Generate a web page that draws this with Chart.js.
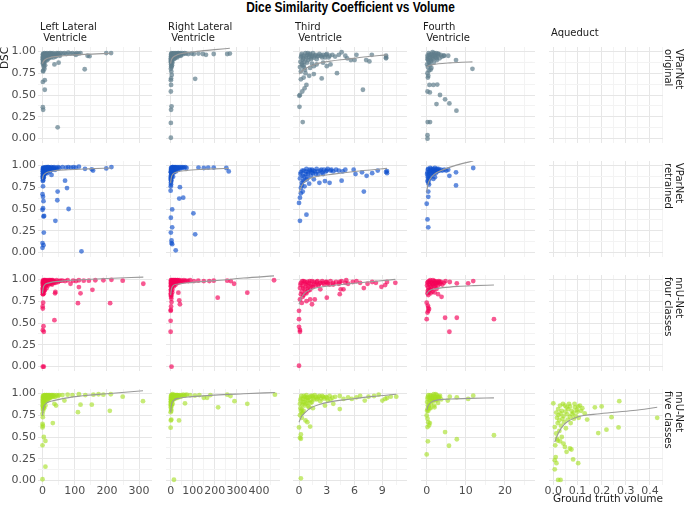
<!DOCTYPE html>
<html><head><meta charset="utf-8">
<script src="https://cdn.jsdelivr.net/npm/chart.js@4/dist/chart.umd.min.js"></script>
<style>
html,body{margin:0;padding:0;background:#fff;}
body{width:685px;height:507px;position:relative;overflow:hidden;font-family:"DejaVu Sans",sans-serif;}
canvas{position:absolute;}
.t{position:absolute;white-space:pre;color:#1a1a1a;}
</style></head><body>
<script>
// ---------- categories / labels ----------
const colNames = ["Left Lateral\n Ventricle", "Right Lateral\n Ventricle", "Third\n Ventricle", "Fourth\n Ventricle", "Aqueduct"];
const rowNames = ["VParNet\noriginal", "VParNet\nretrained", "nnU-Net\nfour classes", "nnU-Net\nfive classes"];
const yTickVals = [0, 0.25, 0.5, 0.75, 1];
const yTickLabels = ["0.00", "0.25", "0.50", "0.75", "1.00"];
const yMinorVals = [0.125, 0.375, 0.625, 0.875];
const xTickVals = [[0,100,200,300],[0,100,200,300,400],[0,3,6,9],[0,10,20],[0,0.1,0.2,0.3,0.4]];
const xTickLabels = [["0","100","200","300"],["0","100","200","300","400"],["0","3","6","9"],["0","10","20"],["0.0","0.1","0.2","0.3","0.4"]];
const xMinorVals = [[50,150,250],[50,150,250,350,450],[1.5,4.5,7.5,10.5],[5,15,25],[0.05,0.15,0.25,0.35,0.45]];
const xLimits = [[-14,340],[-21,495],[-0.65,11.66],[-1.46,27.7],[-0.0178,0.454]];
const yLimits = [-0.05, 1.05];

// ---------- VParNet original ----------
const llvOrig = [[0.5,0.93],[1,0.96],[1.5,0.9],[2,0.94],[2.5,0.88],[3,0.97],[3.5,0.92],[4,0.86],[5,0.95],[5.5,0.9],[6,0.98],[7,0.93],[8,0.96],[9,0.89],[10,0.94],[11,0.97],[12,0.92],[13,0.95],[14,0.98],[15,0.9],[16,0.96],[18,0.94],[19,0.97],[20,0.92],[22,0.98],[23,0.95],[25,0.96],[27,0.93],[29,0.97],[31,0.95],[33,0.98],[35,0.96],[38,0.97],[41,0.94],[44,0.98],[47,0.97],[52,0.96],[56,0.98],[62,0.975],[68,0.98],[74,0.97],[80,0.985],[87,0.975],[93,0.98],[100,0.97],[106,0.98],[112,0.975],[118,0.98],[104,0.96],[140,0.95],[146,0.945],[198,0.98],[213,0.98],[3,0.84],[4,0.82],[6,0.8],[2,0.78],[1,0.86],[8,0.84],[37,0.85],[50,0.87],[131,0.795],[2,0.77],[7,0.67],[1,0.65],[7,0.56],[1,0.36],[2,0.33],[47,0.13],[0.8,0.91],[1.8,0.97],[2.8,0.94],[4.5,0.9],[6.5,0.93],[7.5,0.97],[9.5,0.95],[11.5,0.91],[13.5,0.97],[17,0.92],[21,0.96],[24,0.94],[26,0.98],[30,0.96],[34,0.93],[39,0.96],[43,0.95],[49,0.98],[54,0.95],[3,0.89],[5,0.87],[1.5,0.88]];
const llvOrigFit = [[0,0.86],[2,0.88],[8,0.905],[20,0.925],[40,0.94],[75,0.952],[130,0.965],[214,0.978]];
const rlvOrig = [[1,0.92],[2,0.96],[3,0.89],[4,0.94],[5,0.98],[6,0.9],[7,0.95],[8,0.87],[9,0.97],[10,0.93],[12,0.96],[13,0.91],[15,0.98],[16,0.94],[18,0.97],[20,0.92],[22,0.96],[24,0.98],[26,0.95],[28,0.97],[30,0.93],[33,0.98],[36,0.96],[40,0.97],[44,0.98],[48,0.96],[53,0.98],[58,0.97],[64,0.98],[70,0.975],[80,0.97],[95,0.975],[105,0.97],[126,0.975],[146,0.97],[160,0.96],[195,0.97],[256,0.97],[268,0.975],[2,0.85],[4,0.82],[1,0.8],[6,0.84],[3,0.77],[5,0.73],[2,0.69],[1,0.67],[111,0.685],[2,0.615],[1,0.54],[4,0.37],[2,0.33],[1,0.18],[1,0.01],[0.5,0.9],[1.5,0.94],[2.5,0.97],[3.5,0.91],[4.5,0.95],[5.5,0.88],[6.5,0.97],[7.5,0.93],[11,0.95],[14,0.97],[17,0.92],[19,0.95],[23,0.97],[27,0.94],[31,0.96],[35,0.98],[38,0.95],[42,0.97],[46,0.95],[2,0.87],[3,0.83],[1,0.88]];
const rlvOrigFit = [[0,0.86],[3,0.9],[10,0.93],[30,0.96],[60,0.98],[120,1.0],[200,1.02],[268,1.035]];
const tvOrig = [[0.2,0.93],[0.3,0.97],[0.4,0.9],[0.5,0.95],[0.6,0.88],[0.7,0.98],[0.8,0.92],[0.9,0.96],[1.0,0.9],[1.1,0.94],[1.2,0.97],[1.3,0.91],[1.4,0.95],[1.5,0.98],[1.6,0.93],[1.8,0.96],[2.0,0.94],[2.2,0.97],[2.4,0.95],[2.6,0.96],[2.8,0.93],[3.0,0.97],[3.3,0.95],[3.6,0.96],[3.9,0.94],[4.3,0.96],[4.6,0.99],[5.0,0.95],[5.2,0.92],[6.2,0.96],[5.6,0.9],[6.0,0.9],[7.25,0.9],[7.6,0.885],[7.86,0.96],[9.4,0.95],[9.4,0.93],[9.4,0.92],[6.9,0.56],[4.1,0.75],[2.45,0.69],[3.0,0.83],[3.4,0.85],[2.6,0.87],[0.03,0.49],[0.1,0.5],[0.05,0.365],[0.4,0.19],[0.8,0.615],[0.6,0.577],[0.35,0.54],[0.2,0.68],[0.5,0.7],[1.1,0.72],[1.6,0.74],[0.2,0.77],[0.65,0.79],[1.2,0.81],[1.6,0.83],[1.9,0.85],[0.1,0.82],[0.3,0.86],[0.5,0.84],[0.25,0.95],[0.45,0.92],[0.75,0.94],[0.95,0.98],[1.15,0.96],[1.35,0.93],[1.7,0.95],[1.9,0.91],[2.1,0.95],[2.5,0.93],[2.9,0.96],[3.2,0.93],[0.15,0.88],[0.35,0.84],[0.55,0.81],[0.85,0.87],[1.4,0.86],[0.7,0.75]];
const tvOrigFit = [[0,0.74],[0.5,0.79],[1.2,0.83],[2.2,0.865],[3.5,0.89],[5.1,0.91],[7,0.935],[9.5,0.96]];
const fvOrig = [[0.2,0.95],[0.4,0.9],[0.5,0.98],[0.7,0.86],[0.8,0.93],[1.0,0.96],[1.1,0.89],[1.3,0.94],[1.5,0.99],[1.6,0.91],[1.8,0.87],[2.0,0.96],[2.2,0.93],[2.4,0.98],[2.6,0.9],[2.8,0.95],[3.0,0.97],[3.3,0.92],[3.6,0.96],[3.9,0.94],[4.4,0.95],[5.5,0.95],[0.3,0.82],[0.6,0.78],[0.2,0.75],[1.2,0.81],[0.4,0.72],[0.3,0.7],[7.5,0.9],[11.7,0.8],[4.4,0.95],[0.7,0.615],[1.7,0.615],[2.7,0.62],[0.2,0.54],[0.8,0.53],[3.4,0.5],[4.7,0.45],[2.5,0.396],[5.8,0.404],[7.6,0.32],[0.25,0.19],[0.85,0.19],[0.2,0.04],[0.2,0.0],[0.3,0.93],[0.6,0.96],[0.9,0.9],[1.2,0.97],[1.4,0.92],[1.7,0.95],[1.9,0.98],[2.3,0.95],[2.5,0.92],[2.9,0.97],[0.5,0.88],[0.8,0.84],[1.0,0.79],[0.1,0.85],[0.2,0.91]];
const fvOrigFit = [[0,0.82],[0.5,0.835],[1.5,0.848],[3,0.858],[6,0.868],[9,0.875],[11.7,0.88]];

// ---------- VParNet retrained ----------
const llvRet = [[0.5,0.9],[1,0.95],[1.5,0.87],[2,0.93],[2.5,0.97],[3,0.89],[4,0.95],[5,0.92],[6,0.97],[7,0.9],[8,0.94],[9,0.96],[10,0.92],[11,0.98],[12,0.95],[13,0.93],[14,0.97],[15,0.91],[16,0.96],[17,0.94],[18,0.98],[20,0.95],[21,0.97],[23,0.93],[25,0.96],[27,0.98],[29,0.95],[31,0.97],[33,0.96],[36,0.98],[39,0.95],[42,0.97],[45,0.96],[48,0.98],[52,0.97],[1,0.85],[2,0.83],[3,0.86],[1,0.82],[62,0.98],[73,0.975],[80,0.98],[88,0.975],[96,0.98],[103,0.975],[113,0.985],[132,0.96],[153,0.955],[157,0.94],[198,0.965],[214,0.98],[1.6,0.76],[0,0.67],[1.6,0.64],[3,0.59],[1.6,0.51],[0,0.49],[3,0.415],[5,0.42],[4,0.23],[0,0.11],[3,0.085],[0,0.055],[81,0.5],[40,0.365],[46,0.6],[47,0.7],[70,0.825],[76,0.74],[28,0.89],[121,0.015],[0.8,0.93],[1.2,0.97],[1.8,0.91],[2.2,0.95],[3.5,0.97],[4.5,0.9],[5.5,0.96],[6.5,0.93],[7.5,0.97],[8.5,0.91],[9.5,0.94],[10.5,0.97],[12.5,0.93],[14.5,0.95],[16.5,0.98],[19,0.96],[22,0.97],[24,0.95],[26,0.97],[30,0.96],[35,0.97],[0.5,0.87],[2,0.88],[4,0.86]];
const llvRetFit = [[0,0.84],[2,0.88],[6,0.9],[15,0.92],[40,0.94],[80,0.95],[140,0.96],[214,0.97]];
const rlvRet = [[0.5,0.86],[1,0.92],[1.5,0.95],[2,0.83],[3,0.9],[4,0.97],[5,0.88],[6,0.94],[7,0.96],[8,0.91],[9,0.98],[10,0.93],[11,0.87],[12,0.96],[14,0.94],[15,0.98],[16,0.92],[18,0.97],[19,0.95],[21,0.98],[23,0.93],[25,0.97],[27,0.96],[29,0.98],[32,0.95],[35,0.97],[38,0.98],[42,0.96],[46,0.98],[50,0.97],[55,0.98],[60,0.975],[66,0.98],[72,0.97],[1,0.8],[2,0.78],[3,0.82],[0.5,0.76],[126,0.975],[150,0.97],[170,0.975],[195,0.975],[252,0.97],[263,0.93],[0,0.71],[42,0.75],[39,0.62],[57,0.63],[7,0.495],[1,0.4],[7,0.29],[1,0.23],[4,0.14],[4,0.11],[7,0.097],[23,0.027],[103,0.45],[111,0.21],[0.8,0.88],[1.2,0.93],[1.8,0.97],[2.5,0.92],[3.5,0.95],[4.5,0.9],[5.5,0.96],[6.5,0.92],[7.5,0.98],[8.5,0.94],[9.5,0.96],[11,0.97],[13,0.95],[17,0.96],[20,0.97],[24,0.96],[28,0.97],[2,0.85],[4,0.87],[1,0.84]];
const rlvRetFit = [[0,0.8],[3,0.86],[10,0.9],[30,0.925],[70,0.94],[130,0.952],[200,0.96],[263,0.965]];
const tvRet = [[0.1,0.85],[0.2,0.92],[0.3,0.8],[0.4,0.88],[0.5,0.94],[0.6,0.83],[0.7,0.9],[0.8,0.96],[0.9,0.86],[1.0,0.92],[1.1,0.79],[1.2,0.94],[1.3,0.88],[1.4,0.95],[1.5,0.91],[1.7,0.93],[1.9,0.96],[2.1,0.9],[2.3,0.94],[2.5,0.92],[2.7,0.95],[2.9,0.93],[3.1,0.96],[3.4,0.94],[3.7,0.93],[4.0,0.95],[4.3,0.94],[4.7,0.93],[5.0,0.95],[0.3,0.77],[0.2,0.74],[0.6,0.76],[1.6,0.84],[2.2,0.8],[2.8,0.82],[3.3,0.8],[4.6,0.825],[5.9,0.95],[6.1,0.9],[7.0,0.7],[7.3,0.88],[7.9,0.91],[9.5,0.935],[9.5,0.91],[9.4,0.925],[8.5,0.94],[6.8,0.92],[0.1,0.365],[0.8,0.435],[0.0,0.57],[0.1,0.63],[0.2,0.68],[0.4,0.7],[0.15,0.9],[0.35,0.94],[0.55,0.87],[0.75,0.93],[0.95,0.9],[1.15,0.95],[1.35,0.92],[1.55,0.94],[1.8,0.9],[2.0,0.93],[2.4,0.95],[2.6,0.9],[3.0,0.94],[3.5,0.95],[0.45,0.82],[0.85,0.84]];
const tvRetFit = [[0,0.69],[0.3,0.77],[0.8,0.83],[1.8,0.87],[3.7,0.9],[6,0.93],[8,0.95],[9.5,0.965]];
const fvRet = [[0.1,0.9],[0.3,0.95],[0.5,0.85],[0.7,0.92],[0.9,0.97],[1.1,0.88],[1.3,0.94],[1.5,0.9],[1.7,0.96],[1.9,0.93],[2.1,0.97],[2.3,0.91],[2.5,0.95],[2.7,0.93],[3.0,0.96],[3.3,0.94],[3.6,0.95],[4.0,0.94],[4.5,0.95],[5.0,0.94],[5.5,0.95],[0.2,0.82],[0.4,0.8],[0.6,0.78],[0.3,0.86],[1.7,0.845],[2.1,0.865],[5.8,0.88],[7.5,0.92],[7.5,0.77],[11.9,0.97],[0.4,0.7],[0.4,0.64],[0,0.56],[0.2,0.38],[0.4,0.29],[0.2,0.92],[0.4,0.96],[0.6,0.9],[0.8,0.94],[1.0,0.91],[1.2,0.96],[1.4,0.93],[1.6,0.95],[1.8,0.91],[2.2,0.94],[2.6,0.96],[2.9,0.94],[0.3,0.88],[0.5,0.83],[1.0,0.86]];
const fvRetFit = [[0,0.69],[0.3,0.78],[0.9,0.845],[2,0.9],[3.4,0.935],[6,0.98],[9,1.02],[11.9,1.05]];

// ---------- nnU-Net four classes ----------
const llvFour = [[0.5,0.95],[1,0.9],[1.5,0.98],[2,0.86],[3,0.93],[4,0.97],[5,0.91],[6,0.99],[7,0.94],[8,0.88],[9,0.97],[10,0.93],[11,0.99],[12,0.95],[13,0.9],[14,0.98],[15,0.96],[17,0.99],[18,0.93],[20,0.97],[22,0.95],[24,0.99],[26,0.96],[28,0.98],[30,0.94],[32,0.99],[35,0.97],[38,0.98],[41,0.96],[44,0.99],[48,0.97],[52,0.98],[56,0.985],[1,0.85],[2,0.83],[3,0.88],[4,0.84],[6,0.87],[39,0.84],[40,0.855],[62,0.985],[70,0.98],[78,0.99],[87,0.95],[95,0.985],[104,0.98],[113,0.99],[128,0.985],[144,0.985],[164,0.99],[189,0.99],[214,0.995],[249,0.985],[313,0.95],[113,0.912],[118,0.84],[155,0.88],[110,0.727],[210,0.727],[1,0.83],[2,0.733],[0.5,0.69],[1,0.665],[37,0.532],[3,0.464],[1,0.418],[4,0.4],[1,0.0],[4,0.0],[0.8,0.97],[1.2,0.93],[1.8,0.96],[2.5,0.99],[3.5,0.95],[4.5,0.92],[5.5,0.96],[6.5,0.97],[7.5,0.99],[8.5,0.95],[9.5,0.92],[10.5,0.98],[12.5,0.97],[14.5,0.94],[16,0.98],[19,0.96],[21,0.99],[23,0.97],[25,0.98],[27,0.95],[29,0.99],[33,0.98],[36,0.96],[0.5,0.88],[1.5,0.9],[2.5,0.87]];
const llvFourFit = [[0,0.84],[2,0.9],[6,0.935],[20,0.96],[60,0.98],[120,0.995],[200,1.01],[313,1.026]];
const rlvFour = [[0.5,0.92],[1,0.97],[2,0.88],[3,0.95],[4,0.99],[5,0.91],[6,0.96],[7,0.85],[8,0.98],[9,0.93],[10,0.97],[12,0.95],[13,0.99],[15,0.92],[17,0.98],[19,0.96],[21,0.99],[23,0.94],[25,0.98],[28,0.97],[31,0.99],[34,0.96],[37,0.98],[41,0.99],[45,0.97],[50,0.985],[55,0.975],[60,0.99],[66,0.98],[72,0.985],[80,0.98],[88,0.99],[1,0.84],[2,0.8],[4,0.82],[3,0.78],[8,0.88],[105,0.98],[125,0.985],[150,0.98],[175,0.98],[195,0.985],[256,0.985],[272,0.98],[287,0.95],[347,0.847],[468,0.99],[213,0.79],[35,0.847],[42,0.715],[39,0.76],[4,0.74],[2,0.69],[0,0.64],[1,0.65],[0,0.525],[0,0.4],[4,0.0],[0.8,0.95],[1.5,0.99],[2.5,0.93],[3.5,0.97],[4.5,0.94],[5.5,0.98],[6.5,0.92],[7.5,0.96],[8.5,0.99],[9.5,0.95],[11,0.98],[14,0.97],[16,0.99],[18,0.95],[20,0.98],[22,0.97],[24,0.99],[26,0.96],[30,0.98],[33,0.99],[1,0.88],[2,0.86],[0.5,0.82]];
const rlvFourFit = [[0,0.82],[3,0.88],[8,0.92],[30,0.945],[100,0.965],[200,0.985],[330,1.015],[468,1.04]];
const tvFour = [[0.1,0.9],[0.2,0.96],[0.3,0.86],[0.4,0.93],[0.5,0.98],[0.6,0.89],[0.7,0.95],[0.8,0.84],[0.9,0.97],[1.0,0.92],[1.1,0.96],[1.2,0.88],[1.3,0.94],[1.4,0.98],[1.5,0.91],[1.7,0.95],[1.9,0.97],[2.1,0.93],[2.3,0.96],[2.5,0.98],[2.7,0.94],[2.9,0.97],[3.1,0.95],[3.4,0.98],[3.7,0.96],[4.0,0.97],[4.3,0.95],[4.6,0.98],[5.0,0.96],[0.2,0.83],[0.4,0.8],[0.1,0.77],[0.3,0.73],[0.8,0.75],[1.4,0.715],[1.2,0.77],[1.7,0.77],[2.3,0.886],[3.0,0.79],[3.7,0.94],[4.4,0.83],[4.8,0.886],[4.4,0.97],[5.1,0.99],[5.3,0.95],[5.8,0.97],[6.2,0.98],[7.0,0.9],[7.4,0.95],[7.9,0.97],[8.9,0.915],[9.3,0.935],[9.5,0.97],[10.4,0.96],[4.5,0.886],[6.6,0.96],[8.3,0.96],[0,0.64],[0,0.544],[0,0.456],[0.1,0.42],[0.1,0.40],[0,0.01],[0.15,0.94],[0.35,0.98],[0.45,0.9],[0.65,0.97],[0.85,0.93],[0.95,0.89],[1.15,0.98],[1.35,0.92],[1.6,0.97],[1.8,0.93],[2.0,0.98],[2.2,0.95],[2.6,0.96],[3.0,0.97],[3.3,0.94],[0.5,0.82],[0.7,0.85],[1.0,0.87]];
const tvFourFit = [[0,0.715],[0.3,0.8],[0.8,0.86],[1.8,0.9],[3.7,0.93],[6,0.955],[8,0.975],[10.4,1.0]];
const fvFour = [[0.1,0.93],[0.3,0.97],[0.5,0.88],[0.7,0.95],[0.9,0.99],[1.1,0.91],[1.3,0.96],[1.5,0.86],[1.7,0.94],[1.9,0.98],[2.1,0.92],[2.3,0.96],[2.5,0.89],[2.7,0.97],[2.9,0.93],[3.1,0.98],[3.4,0.95],[3.7,0.97],[4.0,0.94],[4.4,0.96],[4.8,0.98],[0.2,0.84],[0.4,0.82],[1.0,0.84],[2.0,0.85],[5.9,0.97],[7.7,0.955],[10.6,0.955],[11.9,0.98],[3.8,0.8],[2.9,0.83],[0,0.733],[0.4,0.676],[0.4,0.64],[0.6,0.66],[0.2,0.62],[0.3,0.7],[0,0.544],[4.7,0.56],[7.7,0.56],[17.2,0.544],[5.8,0.4],[0.2,0.96],[0.4,0.91],[0.6,0.98],[0.8,0.93],[1.0,0.97],[1.2,0.89],[1.4,0.95],[1.6,0.99],[1.8,0.92],[2.0,0.96],[2.2,0.98],[2.4,0.94],[2.8,0.96],[3.3,0.97],[0.3,0.87],[0.6,0.85],[0.9,0.88]];
const fvFourFit = [[0,0.83],[0.4,0.86],[0.9,0.875],[2,0.89],[4.1,0.905],[8,0.92],[12,0.928],[17.2,0.935]];

// ---------- nnU-Net five classes ----------
const llvFive = [[0.5,0.9],[1,0.95],[1.5,0.85],[2,0.92],[3,0.97],[4,0.88],[5,0.94],[6,0.98],[7,0.9],[8,0.96],[9,0.86],[10,0.93],[11,0.97],[12,0.91],[13,0.95],[14,0.98],[16,0.93],[17,0.96],[19,0.98],[21,0.94],[23,0.97],[25,0.95],[27,0.98],[30,0.96],[33,0.97],[36,0.98],[40,0.96],[44,0.98],[48,0.97],[52,0.98],[1,0.82],[2,0.8],[3,0.84],[5,0.83],[62,0.98],[78,0.985],[93,0.98],[113,0.99],[133,0.98],[158,0.985],[174,0.99],[189,0.985],[212,0.99],[249,0.962],[312,0.91],[68,0.917],[118,0.87],[153,0.87],[110,0.784],[209,0.8],[37,0.88],[42,0.86],[32,0.66],[0,0.766],[1,0.727],[0,0.65],[1,0.63],[0,0.61],[4,0.5],[9,0.455],[0,0.405],[9,0.16],[0,0.016],[0.8,0.93],[1.2,0.97],[1.8,0.9],[2.5,0.95],[3.5,0.92],[4.5,0.97],[5.5,0.91],[6.5,0.95],[7.5,0.98],[8.5,0.93],[9.5,0.97],[10.5,0.95],[12.5,0.98],[14.5,0.96],[15.5,0.93],[18,0.97],[20,0.95],[22,0.98],[24,0.96],[28,0.97],[31,0.98],[35,0.96],[0.5,0.86],[1.5,0.88],[2.5,0.84]];
const llvFiveFit = [[0,0.747],[2,0.82],[6,0.86],[15,0.895],[34,0.917],[95,0.96],[200,0.995],[312,1.03]];
const rlvFive = [[0.5,0.9],[1,0.95],[2,0.87],[3,0.93],[4,0.98],[5,0.9],[6,0.96],[7,0.92],[8,0.97],[9,0.88],[10,0.95],[12,0.98],[13,0.93],[15,0.97],[17,0.95],[19,0.98],[21,0.94],[23,0.97],[26,0.96],[29,0.98],[32,0.95],[35,0.97],[39,0.98],[43,0.96],[47,0.98],[52,0.97],[57,0.985],[62,0.975],[68,0.98],[73,0.985],[1,0.84],[2,0.82],[3,0.8],[5,0.86],[88,0.98],[110,0.975],[130,0.98],[150,0.95],[165,0.95],[180,0.98],[256,0.985],[271,0.97],[472,0.985],[215,0.84],[289,0.91],[347,0.88],[65,0.886],[38,0.69],[0,0.784],[1,0.69],[3,0.7],[0,0.607],[15,0.01],[0.8,0.93],[1.5,0.97],[2.5,0.91],[3.5,0.96],[4.5,0.93],[5.5,0.98],[6.5,0.94],[7.5,0.96],[8.5,0.99],[9.5,0.93],[11,0.96],[14,0.95],[16,0.98],[18,0.96],[20,0.98],[22,0.95],[25,0.98],[28,0.97],[31,0.98],[1,0.88],[2,0.9],[0.5,0.86]];
const rlvFiveFit = [[0,0.78],[3,0.86],[12,0.917],[40,0.945],[88,0.96],[200,0.98],[330,0.995],[472,1.01]];
const tvFive = [[0.1,0.88],[0.2,0.94],[0.3,0.82],[0.4,0.9],[0.5,0.97],[0.6,0.86],[0.7,0.93],[0.8,0.98],[0.9,0.89],[1.0,0.95],[1.1,0.84],[1.2,0.92],[1.3,0.97],[1.4,0.9],[1.5,0.95],[1.7,0.98],[1.9,0.93],[2.1,0.96],[2.3,0.91],[2.5,0.97],[2.7,0.94],[2.9,0.96],[3.1,0.92],[3.3,0.97],[3.6,0.95],[3.9,0.96],[0.2,0.8],[0.4,0.78],[0.1,0.75],[0.3,0.72],[4.4,0.97],[4.8,0.936],[5.3,0.955],[5.7,0.936],[6.2,0.955],[6.6,0.97],[7.1,0.917],[7.5,0.962],[8.1,0.97],[8.6,0.985],[9.0,0.917],[9.3,0.936],[9.5,0.947],[9.9,0.962],[10.5,0.962],[4.4,0.82],[1.5,0.83],[1.0,0.85],[2.8,0.86],[3.7,0.88],[0,0.61],[0.2,0.53],[0.1,0.49],[0.2,0.48],[1.2,0.62],[0.7,0.69],[0.9,0.67],[0.2,0.027],[0.15,0.92],[0.25,0.97],[0.35,0.87],[0.45,0.94],[0.55,0.9],[0.65,0.96],[0.75,0.88],[0.85,0.95],[0.95,0.92],[1.15,0.96],[1.25,0.89],[1.45,0.97],[1.6,0.93],[1.8,0.96],[2.0,0.94],[2.2,0.97],[2.4,0.94],[2.6,0.96],[3.0,0.95],[3.4,0.93],[0.3,0.77],[0.5,0.8],[0.15,0.83]];
const tvFiveFit = [[0,0.67],[0.3,0.74],[0.65,0.78],[1.2,0.83],[2.1,0.87],[3.5,0.905],[5.7,0.936],[8,0.965],[10.5,0.99]];
const fvFive = [[0.1,0.9],[0.3,0.96],[0.5,0.85],[0.7,0.93],[0.9,0.98],[1.1,0.88],[1.3,0.95],[1.5,0.91],[1.7,0.97],[1.9,0.86],[2.1,0.94],[2.3,0.99],[2.5,0.92],[2.7,0.96],[2.9,0.89],[3.1,0.95],[3.4,0.97],[3.7,0.93],[0.2,0.82],[0.4,0.8],[1.0,0.83],[2.0,0.84],[5.9,0.962],[7.7,0.955],[10.6,0.936],[11.9,0.974],[5.4,0.917],[0,0.747],[0.2,0.71],[0.4,0.67],[0.6,0.633],[0.2,0.614],[0.8,0.66],[4.7,0.557],[7.7,0.474],[0.3,0.45],[5.7,0.40],[17.2,0.52],[0,0.30],[0.2,0.94],[0.4,0.98],[0.6,0.89],[0.8,0.95],[1.0,0.92],[1.2,0.97],[1.4,0.93],[1.6,0.95],[1.8,0.99],[2.0,0.92],[2.2,0.96],[2.4,0.94],[2.6,0.98],[2.8,0.95],[3.2,0.96],[0.3,0.86],[0.7,0.83],[0.1,0.8]];
const fvFiveFit = [[0,0.81],[0.4,0.86],[1.2,0.9],[3,0.925],[6.4,0.936],[11,0.943],[17.2,0.948]];
const aqFive = [[0.0,0.886],[0.048,0.86],[0.055,0.84],[0.062,0.82],[0.069,0.85],[0.076,0.80],[0.083,0.78],[0.09,0.84],[0.097,0.81],[0.103,0.85],[0.11,0.86],[0.012,0.78],[0.015,0.72],[0.018,0.66],[0.02,0.82],[0.022,0.75],[0.025,0.69],[0.028,0.86],[0.03,0.77],[0.032,0.63],[0.035,0.8],[0.038,0.71],[0.04,0.88],[0.042,0.74],[0.045,0.67],[0.05,0.79],[0.052,0.6],[0.058,0.76],[0.06,0.7],[0.065,0.88],[0.07,0.73],[0.072,0.66],[0.078,0.76],[0.085,0.71],[0.088,0.88],[0.093,0.74],[0.1,0.79],[0.105,0.72],[0.115,0.8],[0.12,0.83],[0.13,0.77],[0.172,0.84],[0.2,0.85],[0.273,0.91],[0.186,0.545],[0.22,0.584],[0.27,0.61],[0.241,0.727],[0.14,0.70],[0.43,0.72],[0.103,0.2],[0.082,0.243],[0.055,0.33],[0.075,0.357],[0.069,0.368],[0.006,0.235],[0.01,0.27],[0.013,0.2],[0.006,0.13],[0.02,0.008],[0.03,0.008],[0.006,0.614],[0.012,0.54],[0.018,0.46],[0.008,0.405],[0.025,0.57],[0.035,0.5],[0.042,0.425],[0.048,0.386],[0.015,0.48],[0.028,0.45]];
const aqFiveFit = [[0.006,0.443],[0.02,0.54],[0.048,0.652],[0.097,0.727],[0.193,0.766],[0.33,0.803],[0.43,0.84]];

const panelPoints = [
  [llvOrig, rlvOrig, tvOrig, fvOrig, []],
  [llvRet, rlvRet, tvRet, fvRet, []],
  [llvFour, rlvFour, tvFour, fvFour, []],
  [llvFive, rlvFive, tvFive, fvFive, aqFive]
];
const panelFits = [
  [llvOrigFit, rlvOrigFit, tvOrigFit, fvOrigFit, null],
  [llvRetFit, rlvRetFit, tvRetFit, fvRetFit, null],
  [llvFourFit, rlvFourFit, tvFourFit, fvFourFit, null],
  [llvFiveFit, rlvFiveFit, tvFiveFit, fvFiveFit, aqFiveFit]
];
const rowColors = ["rgba(96,125,139,0.7)", "rgba(15,80,205,0.65)", "rgba(245,0,87,0.65)", "rgba(165,222,35,0.62)"];

// ---------- layout ----------
const colLeft = [38, 166, 293, 421, 549];
const rowTop = [47, 161, 275, 389];
const PW = 114, PH = 96, M = 6, YAXW = 38, XAXH = 18;

Chart.defaults.font.family = "'DejaVu Sans', sans-serif";

function addText(txt, css) {
  const d = document.createElement('div');
  d.className = 't';
  d.textContent = txt;
  d.style.cssText += css;
  document.body.appendChild(d);
  return d;
}

function makePanel(r, c) {
  const showY = c === 0, showX = r === 3;
  const padL = showY ? YAXW : M, padB = showX ? XAXH : M;
  const w = PW + padL + M, h = PH + M + padB;
  const cv = document.createElement('canvas');
  cv.width = w; cv.height = h;
  cv.style.left = (colLeft[c] - padL) + 'px';
  cv.style.top = (rowTop[r] - M) + 'px';
  cv.style.width = w + 'px'; cv.style.height = h + 'px';
  document.body.appendChild(cv);
  const xMaj = xTickVals[c], xMin = xMinorVals[c];
  const datasets = [];
  const fit = panelFits[r][c];
  if (fit) datasets.push({type: 'line', data: fit.map(p => ({x: p[0], y: p[1]})), borderColor: '#9a9a9a', borderWidth: 1.1, pointRadius: 0, fill: false, cubicInterpolationMode: 'monotone'});
  datasets.push({type: 'scatter', data: panelPoints[r][c].map(p => ({x: p[0], y: p[1]})), backgroundColor: rowColors[r], borderWidth: 0, pointRadius: 2.4});
  new Chart(cv, {
    type: 'scatter',
    data: {datasets},
    options: {
      responsive: false, animation: false, devicePixelRatio: 1, events: [],
      layout: {padding: {left: showY ? 0 : M, right: M, top: M, bottom: showX ? 0 : M}},
      plugins: {legend: {display: false}, tooltip: {enabled: false}},
      scales: {
        x: {
          type: 'linear', min: xLimits[c][0], max: xLimits[c][1],
          afterBuildTicks: a => { a.ticks = xMaj.concat(xMin).map(v => ({value: v})); },
          afterFit: a => { a.height = showX ? XAXH : 0; a.paddingLeft = 0; a.paddingRight = 0; },
          grid: {drawTicks: false, color: ctx => (ctx.tick && xMin.includes(ctx.tick.value)) ? '#F3F3F3' : '#E6E6E6', lineWidth: 1},
          border: {display: false},
          ticks: {display: showX, autoSkip: false, maxRotation: 0, padding: 0, color: '#4D4D4D', font: {size: 11},
            callback: v => { const i = xMaj.indexOf(v); return i >= 0 ? xTickLabels[c][i] : ''; }}
        },
        y: {
          type: 'linear', min: yLimits[0], max: yLimits[1],
          afterBuildTicks: a => { a.ticks = yTickVals.concat(yMinorVals).map(v => ({value: v})); },
          afterFit: a => { a.width = showY ? YAXW : 0; a.paddingTop = 0; a.paddingBottom = 0; },
          grid: {drawTicks: false, color: ctx => (ctx.tick && yMinorVals.includes(ctx.tick.value)) ? '#F3F3F3' : '#E6E6E6', lineWidth: 1},
          border: {display: false},
          ticks: {display: showY, autoSkip: false, padding: 2, color: '#4D4D4D', font: {size: 11},
            callback: v => { const i = yTickVals.indexOf(v); return i >= 0 ? yTickLabels[i] : ''; }}
        }
      }
    }
  });
}

for (let r = 0; r < 4; r++) for (let c = 0; c < 5; c++) makePanel(r, c);

// title
addText("Dice Similarity Coefficient vs Volume", "left:38px;width:625px;top:-1px;text-align:center;font-family:'Liberation Sans',sans-serif;font-weight:bold;font-size:14.5px;color:#000;transform:scaleX(0.82);transform-origin:312.5px 0;");
// column strips
colNames.forEach((n, c) => {
  const single = !n.includes('\n');
  addText(n, `left:${colLeft[c] + 2}px;top:${single ? 27 : 21}px;font-size:10px;line-height:11px;`);
});
// row strips (rotated clockwise)
rowNames.forEach((n, r) => {
  addText(n, `left:685px;top:${rowTop[r] + 2}px;font-size:10px;line-height:11px;transform-origin:0 0;transform:rotate(90deg);`);
});
// axis titles
addText("DSC", "left:-2px;top:147px;width:100px;text-align:right;font-size:10.5px;line-height:12px;transform-origin:0 0;transform:rotate(-90deg);");
addText("Ground truth volume", "left:463px;width:200px;top:492px;text-align:right;font-size:10.5px;line-height:12px;");
</script>
</body></html>
